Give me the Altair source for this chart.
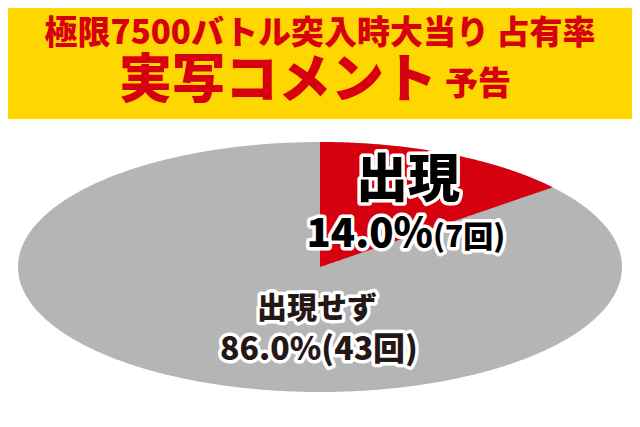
import math
import altair as alt
import pandas as pd

# ---- data ----
labels = ["出現", "出現せず"]
percents = [14.0, 86.0]
counts = [7, 43]
title_line1 = "極限7500バトル突入時大当り 占有率"
title_line2_big = "実写コメント"
title_line2_small = "予告"

YELLOW = "#FFD700"
RED = "#D7000F"
GRAY = "#B5B5B6"
FONT = "Noto Sans CJK JP"

theta_end = 2 * math.pi * percents[0] / 100.0
cot_end = math.cos(theta_end) / math.sin(theta_end)

xs = alt.Scale(domain=[-1, 1], range=[18, 622])
ys = alt.Scale(domain=[-1, 1], range=[392, 142])

# white panel
panel = alt.Chart(pd.DataFrame({"a": [0]})).mark_rect(color="white").encode(
    x=alt.value(3), x2=alt.value(637), y=alt.value(119), y2=alt.value(424)
)

# gray full ellipse (whole pie)
gray = (
    alt.Chart(alt.sequence(0, 361, 1, as_="i"))
    .transform_calculate(u="datum.i / 360 * PI")
    .transform_calculate(ex="-cos(datum.u)", ey="sin(datum.u)", ey2="-sin(datum.u)")
    .mark_area(color=GRAY, opacity=1)
    .encode(
        x=alt.X("ex:Q", scale=xs, axis=None),
        y=alt.Y("ey:Q", scale=ys, axis=None),
        y2="ey2:Q",
    )
)

# red sector for the first category
red = (
    alt.Chart(alt.sequence(0, 201, 1, as_="i"))
    .transform_calculate(t=f"datum.i / 200 * {theta_end}")
    .transform_calculate(ex="sin(datum.t)", ey="cos(datum.t)", ey2=f"sin(datum.t) * {cot_end}")
    .mark_area(color=RED, opacity=1)
    .encode(
        x=alt.X("ex:Q", scale=xs, axis=None),
        y=alt.Y("ey:Q", scale=ys, axis=None),
        y2="ey2:Q",
    )
)


def txt(s, x, y, size, color, align="center", outline=True, weight=900):
    df = pd.DataFrame({"s": [s]})
    layers = []
    if outline:
        layers.append(
            alt.Chart(df).mark_text(
                font=FONT, fontSize=size, fontWeight=weight, align=align,
                baseline="alphabetic", stroke="white", strokeWidth=7,
                strokeJoin="round", fill="white",
            ).encode(x=alt.value(x), y=alt.value(y), text="s:N")
        )
    layers.append(
        alt.Chart(df).mark_text(
            font=FONT, fontSize=size, fontWeight=weight, align=align,
            baseline="alphabetic", fill=color,
        ).encode(x=alt.value(x), y=alt.value(y), text="s:N")
    )
    return layers


pct_str = [f"{p:.1f}%" for p in percents]
cnt_str = [f"({c}回)" for c in counts]

texts = []
texts += txt(title_line1, 320, 44, 33, RED, outline=False)
texts += txt(title_line2_big, 437, 98, 53, RED, align="right", outline=False)
texts += txt(title_line2_small, 445, 95, 33, RED, align="left", outline=False)
texts += txt(labels[0], 408, 197, 52, "#000000")
texts += txt(pct_str[0], 433, 247, 40, "#000000", align="right")
texts += txt(cnt_str[0], 433, 247, 30, "#000000", align="left")
texts += txt(labels[1], 317, 318, 30, "#231815")
texts += txt(pct_str[1] + cnt_str[1], 319, 360, 32, "#231815")

chart = alt.layer(panel, gray, red, *texts).properties(
    width=640, height=427,
    autosize=alt.AutoSizeParams(type="none"),
    padding={"left": -8, "top": -8, "right": -8, "bottom": -8},
    background=YELLOW,
).configure_view(stroke=None)

chart.save("out.html", embed_options={"renderer": "svg", "actions": False})
